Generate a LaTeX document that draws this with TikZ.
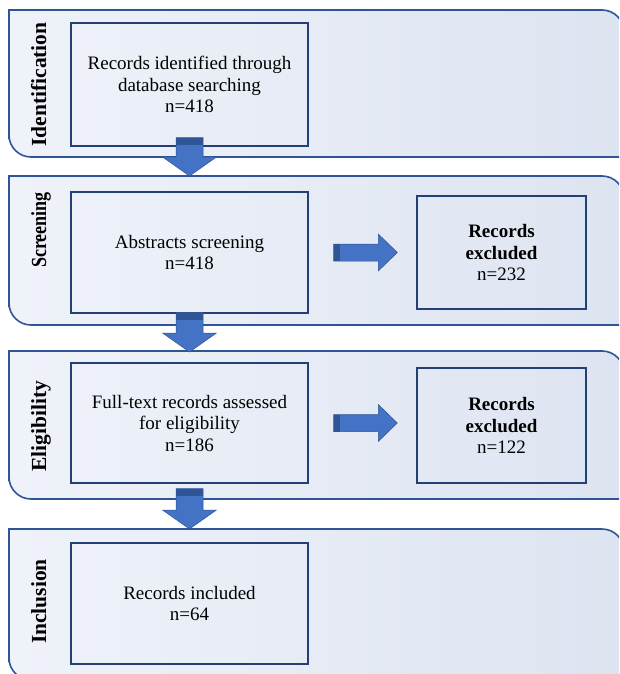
\documentclass[tikz,border=0pt]{standalone}
\usepackage{fontspec}
\setmainfont{Liberation Serif}
\usetikzlibrary{calc,positioning}

\definecolor{bandline}{HTML}{2F5597}
\definecolor{bandleft}{HTML}{EFF2F9}
\definecolor{bandright}{HTML}{DDE4F1}
\definecolor{boxline}{HTML}{243F73}
\definecolor{arrowfill}{HTML}{4472C4}
\definecolor{arrowdark}{HTML}{2F5597}

\tikzset{
  band/.style={draw=bandline, line width=1.6pt, left color=bandleft, right color=bandright},
  stagebox/.style={draw=boxline, line width=1.4pt, align=center, inner sep=2pt},
  stagelabel/.style={rotate=90, anchor=base, font=\fontsize{21.5}{24}\selectfont\bfseries},
  blockarrow/.style={fill=arrowfill, draw=arrowdark, line width=0.5pt},
  downblock/.style={blockarrow, to path={let \p1=(\tikztostart), \p2=(\tikztotarget) in
      (\x1-13.5pt,\y1) -- (\x1+13.5pt,\y1) -- (\x1+13.5pt,\y2+19pt) -- (\x1+27pt,\y2+19pt)
      -- (\x1,\y2) -- (\x1-27pt,\y2+19pt) -- (\x1-13.5pt,\y2+19pt) -- cycle}},
  rightblock/.style={blockarrow, to path={let \p1=(\tikztostart), \p2=(\tikztotarget) in
      (\x1,\y1+8.5pt) -- (\x2-19pt,\y1+8.5pt) -- (\x2-19pt,\y1+18.5pt) -- (\x2,\y1)
      -- (\x2-19pt,\y1-18.5pt) -- (\x2-19pt,\y1-8.5pt) -- (\x1,\y1-8.5pt) -- cycle}},
}

\begin{document}
\begin{tikzpicture}[x=1pt,y=-1pt,font=\fontsize{19}{21.5}\selectfont]
  \useasboundingbox (0,0) rectangle (619,674);
  \clip (0,0) rectangle (619,674);

  % stage bands
  \foreach \ytop/\ybot in {10/157,176/325,351/499,529/680}
    \draw[band] (9,\ytop) -- (300,\ytop) [rounded corners=22pt] -- (624,\ytop) -- (624,\ytop+40)
      [sharp corners] -- (624,\ybot) -- (300,\ybot) [rounded corners=22pt] -- (9,\ybot) -- (9,\ybot-40)
      [sharp corners] -- cycle;

  \node[stagelabel] (lid) at (46,84.5) {Identification};
  \node[stagelabel] (lscr) at (46,230) {\scalebox{0.84}[1]{Screening}};
  \node[stagelabel] (leli) at (46,426) {Eligibility};
  \node[stagelabel] (linc) at (46,601.5) {Inclusion};

  % boxes
  \node[stagebox, minimum width=237pt, minimum height=123pt] (idbox) at (189.5,84.5)
    {Records identified through\\database searching\\n=418};
  \node[stagebox, minimum width=237pt, minimum height=121pt] (scrbox) at (189.5,252.5)
    {Abstracts screening\\n=418};
  \node[stagebox, minimum width=237pt, minimum height=120pt] (elibox) at (189.5,423)
    {Full-text records assessed\\for eligibility\\n=186};
  \node[stagebox, minimum width=237pt, minimum height=121pt] (incbox) at (189.5,603.5)
    {Records included\\n=64};
  \node[stagebox, minimum width=169pt, minimum height=113pt] (exc1) at (501.5,252.5)
    {\textbf{Records}\\\textbf{excluded}\\n=232};
  \node[stagebox, minimum width=169pt, minimum height=115pt] (exc2) at (501.5,425.5)
    {\textbf{Records}\\\textbf{excluded}\\n=122};

  % arrows
  \coordinate (t2) at (189.5,176);
  \coordinate (t3) at (189.5,352);
  \coordinate (t4) at (189.5,529);
  \draw[downblock] ([yshift=9pt]idbox.south) to (t2);
  \draw[downblock] ([yshift=1pt]scrbox.south) to (t3);
  \draw[downblock] ([yshift=-5pt]elibox.south) to (t4);
  \draw[rightblock] ([xshift=25pt]scrbox.east) to ([xshift=-19pt]exc1.west);
  \draw[rightblock] ([xshift=25pt]elibox.east) to ([xshift=-19pt]exc2.west);
  \fill[arrowdark] ([xshift=-13.5pt,yshift=9pt]idbox.south) rectangle ++(27,7);
  \fill[arrowdark] ([xshift=-13.5pt,yshift=1pt]scrbox.south) rectangle ++(27,7);
  \fill[arrowdark] ([xshift=-13.5pt,yshift=-5pt]elibox.south) rectangle ++(27,7);
  \fill[arrowdark] ([xshift=25pt,yshift=8.5pt]scrbox.east) rectangle ++(6,17);
  \fill[arrowdark] ([xshift=25pt,yshift=8.5pt]elibox.east) rectangle ++(6,17);
\end{tikzpicture}
\end{document}
